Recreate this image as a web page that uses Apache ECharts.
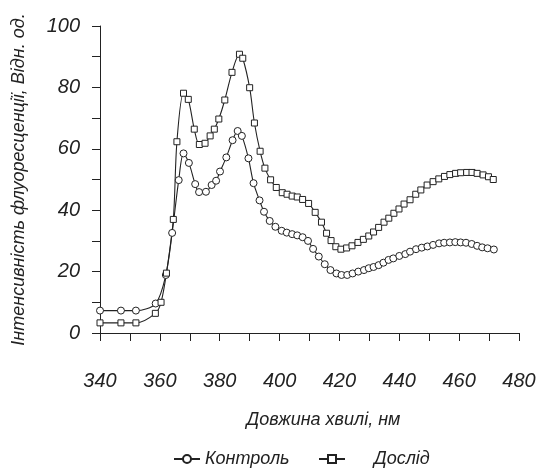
<!DOCTYPE html>
<html>
<head>
<meta charset="utf-8">
<script src="https://cdn.jsdelivr.net/npm/echarts@6/dist/echarts.min.js"></script>
<style>
    html, body { margin: 0; padding: 0; background: #fff; }
    #chart { width: 551px; height: 468px; }
</style>
</head>
<body>
<div id="chart"></div>
<script>
// Контроль (circles)
const ctrlNm = [340, 347, 352, 358.6, 362, 364.1, 366.3, 367.9, 369.7, 371.8, 373.1, 375.4, 377.3, 378.8,
    380.1, 382.2, 384.3, 386, 387.4, 389.6, 391.3, 393.3, 394.8, 396.7, 398.6, 400.7, 402.4, 404.2, 405.9,
    407.7, 409.5, 411.2, 413.1, 415.1, 417, 419, 420.7, 422.6, 424.4, 426.3, 428.2, 429.8, 431.4, 433.1,
    434.7, 436.4, 438, 440, 442, 443.6, 445.6, 447.5, 449.4, 451.3, 453.3, 455, 456.9, 458.7, 460.5, 462.3,
    464.2, 466, 467.7, 469.5, 471.6];
const ctrlVal = [7.3, 7.3, 7.3, 9.6, 18.9, 32.6, 49.8, 58.5, 55.4, 48.5, 45.9, 46, 48.2, 49.6,
    52.6, 57.2, 62.8, 65.8, 64.2, 56.9, 48.8, 43.2, 39.5, 36.5, 34.6, 33.3, 32.7, 32.2, 31.8,
    31.2, 30, 27.4, 24.9, 22.4, 20.5, 19.4, 18.9, 18.9, 19.4, 20, 20.5, 21.1, 21.5, 22.1,
    22.9, 23.8, 24.3, 25.1, 25.7, 26.5, 27.3, 27.8, 28.2, 28.7, 29.2, 29.4, 29.5, 29.6, 29.5, 29.4,
    29, 28.4, 27.9, 27.6, 27.2];

// Дослід (squares)
const expNm = [340, 347, 352, 358.5, 360.4, 362.2, 364.5, 365.7, 367.9, 369.5, 371.5, 373.2, 375.1, 376.8,
    378.2, 379.7, 381.7, 384.1, 386.6, 387.7, 390, 391.6, 393.5, 395.1, 397, 398.9, 400.9, 402.5, 404.2,
    405.9, 407.7, 409.7, 411.9, 414, 415.7, 417.2, 418.8, 420.5, 422.4, 424.2, 426.2, 428, 429.8, 431.4,
    433.1, 434.9, 436.5, 438.2, 439.9, 441.6, 443.6, 445.5, 447.2, 449.3, 451.3, 453.2, 455.1, 456.9,
    458.8, 460.5, 462.5, 464.3, 466, 468, 469.8, 471.4];
const expVal = [3.3, 3.3, 3.3, 6.4, 10, 19.5, 37, 62.3, 78.1, 76.1, 66.4, 61.4, 61.8, 64.2,
    66.4, 69.7, 75.9, 84.9, 90.8, 89.5, 79.9, 68.4, 59.2, 53.7, 49.9, 47.4, 45.7, 45.2, 44.6,
    44.3, 43.5, 42.2, 39.3, 36.1, 32.5, 30.1, 28.1, 27.3, 27.7, 28.4, 29.5, 30.5, 31.6, 32.9,
    34.4, 36.1, 37.4, 39, 40.4, 42, 43.4, 45.2, 46.6, 48.2, 49.3, 50.2, 51, 51.6,
    52, 52.2, 52.3, 52.3, 52, 51.5, 50.9, 50];

const seriesNames = ['Контроль', 'Дослід'];
const xName = 'Довжина хвилі, нм';
const yName = 'Інтенсивність флуоресценції, Відн. од.';

const FONT = '"Liberation Sans", Arial, sans-serif';
const INK = '#222';

function pairs(xs, ys) {
    return xs.map((x, i) => [x, ys[i]]);
}

const chart = echarts.init(document.getElementById('chart'), null, { renderer: 'canvas' });

const markerStyle = { color: '#fff', borderColor: INK, borderWidth: 1 };
const legendText = { fontFamily: FONT, fontStyle: 'italic', fontSize: 18, color: INK };

const option = {
    animation: false,
    backgroundColor: '#fff',
    grid: { left: 100, right: 32, top: 26, bottom: 135 },
    legend: [{
        data: [seriesNames[0]],
        left: 168, top: 445,
        itemWidth: 26, itemHeight: 10,
        textStyle: legendText
    }, {
        data: [seriesNames[1]],
        left: 313, top: 445,
        itemWidth: 26, itemHeight: 10,
        textStyle: Object.assign({ padding: [0, 0, 0, 24] }, legendText)
    }],
    xAxis: {
        type: 'value',
        min: 340, max: 480, interval: 20,
        offset: 30,
        name: xName,
        nameLocation: 'middle',
        nameGap: 48,
        nameTextStyle: { fontFamily: FONT, fontStyle: 'italic', fontSize: 18, color: INK, padding: [0, 0, 0, 28] },
        axisLine: { lineStyle: { color: INK, width: 1 } },
        axisTick: { show: true, inside: false, length: 8, lineStyle: { color: INK } },
        minorTick: { show: true, splitNumber: 2, length: 8, lineStyle: { color: INK } },
        axisLabel: { fontFamily: FONT, fontStyle: 'italic', fontSize: 20, color: INK, margin: 8 },
        splitLine: { show: false }
    },
    yAxis: {
        type: 'value',
        min: 0, max: 100, interval: 20,
        name: yName,
        nameLocation: 'middle',
        nameGap: 72,
        nameTextStyle: { fontFamily: FONT, fontStyle: 'italic', fontSize: 18, color: INK },
        axisLine: { show: true, lineStyle: { color: INK, width: 1 } },
        axisTick: { show: true, length: 8, lineStyle: { color: INK } },
        minorTick: { show: true, splitNumber: 2, length: 8, lineStyle: { color: INK } },
        axisLabel: { fontFamily: FONT, fontStyle: 'italic', fontSize: 20, color: INK, margin: 20 },
        splitLine: { show: false }
    },
    series: [{
        name: seriesNames[0],
        type: 'line',
        smooth: 0.3,
        symbol: 'circle',
        symbolSize: 7,
        itemStyle: markerStyle,
        lineStyle: { color: INK, width: 1.1 },
        emphasis: { disabled: true },
        data: pairs(ctrlNm, ctrlVal)
    }, {
        name: seriesNames[1],
        type: 'line',
        smooth: 0.3,
        symbol: 'rect',
        symbolSize: 6,
        itemStyle: markerStyle,
        lineStyle: { color: INK, width: 1.1 },
        emphasis: { disabled: true },
        data: pairs(expNm, expVal)
    }]
};

chart.setOption(option);
</script>
</body>
</html>
